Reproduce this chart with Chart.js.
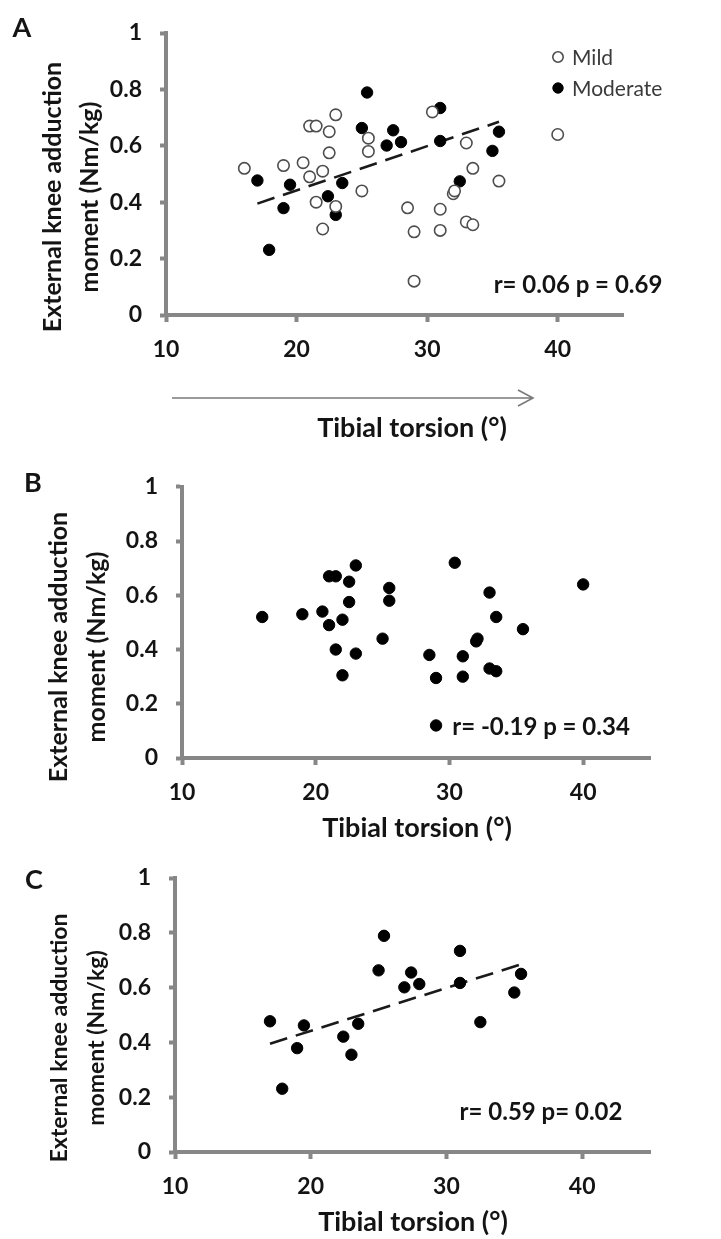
<!DOCTYPE html>
<html lang="en">
<head>
    <meta charset="utf-8" />
    <title>Tibial torsion vs knee adduction moment</title>
    <script src="https://cdnjs.cloudflare.com/ajax/libs/Chart.js/4.4.0/chart.umd.js"></script>
    <style>
        body { margin: 0; background: #fff; }
        canvas { position: absolute; left: 0; }
    </style>
</head>
<body>
    <canvas id="chartA" width="721" height="455" style="top:0px"></canvas>
    <canvas id="chartB" width="721" height="390" style="top:455px"></canvas>
    <canvas id="chartC" width="721" height="394" style="top:845px"></canvas>
    <script>
        // mild group (open circles in A, panel B)
        const mildX = [16.0, 19.0, 20.5, 21.0, 21.5, 23.0, 22.5, 22.5, 21.0, 22.0, 21.5, 23.0, 22.0, 25.5, 25.5,
                       25.0, 28.5, 29.0, 29.0, 30.4, 31.0, 31.0, 33.0, 33.5, 32.0, 32.1, 33.0, 33.5, 35.5, 40.0];
        const mildY = [0.52, 0.53, 0.54, 0.67, 0.67, 0.71, 0.65, 0.575, 0.49, 0.51, 0.40, 0.385, 0.305, 0.627, 0.58,
                       0.44, 0.38, 0.295, 0.12, 0.72, 0.375, 0.30, 0.61, 0.52, 0.43, 0.44, 0.33, 0.32, 0.475, 0.64];
        // moderate group (filled in A, panel C)
        const modX = [17.0, 17.9, 19.0, 19.5, 22.4, 23.0, 23.5, 25.0, 25.4, 26.9, 27.4, 28.0, 31.0, 31.0, 32.5, 35.0, 35.5];
        const modY = [0.477, 0.231, 0.379, 0.462, 0.421, 0.355, 0.468, 0.663, 0.789, 0.601, 0.655, 0.613, 0.734, 0.617, 0.474, 0.582, 0.65];
        // regression line for the moderate group
        const trendX = [17, 35.5];
        const trendY = [0.395, 0.685];

        const xTicks = [10, 20, 30, 40];
        const yTicks = [0, 0.2, 0.4, 0.6, 0.8, 1];
        const yTickLabels = ['0', '0.2', '0.4', '0.6', '0.8', '1'];

        const axisGrey = '#878787';
        const inkColor = '#141414';
        const fontName = 'Lato, "DejaVu Sans", sans-serif';

        const toPoints = (xs, ys) => xs.map((x, i) => ({ x: x, y: ys[i] }));

        const decoPlugin = {
            id: 'deco',
            afterDraw(chart, args, o) {
                const ctx = chart.ctx;
                ctx.save();
                ctx.fillStyle = inkColor;
                ctx.textAlign = 'center';
                ctx.textBaseline = 'middle';

                ctx.font = 'bold 27px ' + fontName;
                ctx.fillText(o.letter, o.letterX, o.letterY);

                // y title, two rotated lines
                ctx.font = 'bold ' + o.yFont + 'px ' + fontName;
                o.yLines.forEach((line, i) => {
                    ctx.save();
                    ctx.translate(o.yLineX[i], o.yCY);
                    ctx.rotate(-Math.PI / 2);
                    ctx.fillText(line, 0, 0);
                    ctx.restore();
                });

                ctx.font = 'bold 27px ' + fontName;
                ctx.fillText('Tibial torsion (°)', o.xTitleX, o.xTitleY);

                ctx.font = 'bold 24px ' + fontName;
                ctx.fillText(o.stat, o.statX, o.statY);

                if (o.arrow) {
                    const a = o.arrow;
                    ctx.strokeStyle = '#7a7a7a';
                    ctx.lineWidth = 1.6;
                    ctx.beginPath();
                    ctx.moveTo(a.x1, a.y);
                    ctx.lineTo(a.x2, a.y);
                    ctx.moveTo(a.x2 - 15, a.y - 8);
                    ctx.lineTo(a.x2, a.y);
                    ctx.lineTo(a.x2 - 15, a.y + 8);
                    ctx.stroke();
                }

                if (o.legend) {
                    ctx.textAlign = 'left';
                    ctx.font = '21px ' + fontName;
                    o.legend.forEach(item => {
                        const ds = chart.data.datasets[item.dataset];
                        ctx.beginPath();
                        ctx.arc(item.x, item.y, 5.2, 0, Math.PI * 2);
                        ctx.fillStyle = ds.pointBackgroundColor;
                        ctx.fill();
                        ctx.lineWidth = ds.pointBorderWidth;
                        ctx.strokeStyle = ds.pointBorderColor;
                        ctx.stroke();
                        ctx.fillStyle = '#3a3a3a';
                        ctx.fillText(ds.label, item.x + 14, item.y + 1);
                    });
                }
                ctx.restore();
            }
        };

        function makePanel(id, geom, datasets, deco) {
            const canvas = document.getElementById(id);
            return new Chart(canvas.getContext('2d'), {
                type: 'scatter',
                data: { datasets: datasets },
                plugins: [decoPlugin],
                options: {
                    responsive: false,
                    animation: false,
                    layout: { padding: { left: 0, top: geom.top, right: 721 - geom.right, bottom: 0 } },
                    plugins: {
                        legend: { display: false },
                        tooltip: { enabled: false },
                        deco: deco
                    },
                    scales: {
                        x: {
                            type: 'linear',
                            min: 10,
                            max: 45,
                            afterFit: s => { s.height = canvas.height - geom.bottom; },
                            afterBuildTicks: s => { s.ticks = xTicks.map(v => ({ value: v })); },
                            border: { display: true, color: axisGrey, width: 4 },
                            grid: { drawOnChartArea: false, tickLength: 7, tickWidth: 4, tickColor: axisGrey, color: axisGrey },
                            ticks: { color: inkColor, padding: 14, font: { family: fontName, size: 23, weight: 'bold' } }
                        },
                        y: {
                            type: 'linear',
                            min: 0,
                            max: 1,
                            afterFit: s => { s.width = geom.left; },
                            afterBuildTicks: s => { s.ticks = yTicks.map(v => ({ value: v })); },
                            border: { display: true, color: axisGrey, width: 4 },
                            grid: { drawOnChartArea: false, tickLength: 6, tickWidth: 4, tickColor: axisGrey, color: axisGrey },
                            ticks: {
                                color: inkColor, padding: 18, font: { family: fontName, size: 23, weight: 'bold' },
                                callback: (v) => yTickLabels[yTicks.indexOf(v)]
                            }
                        }
                    }
                }
            });
        }

        const trendSet = () => ({
            type: 'line',
            label: 'trend',
            data: toPoints(trendX, trendY),
            borderColor: '#1a1a1a',
            borderWidth: 2.6,
            borderDash: [18, 9],
            pointRadius: 0,
            fill: false
        });

        const filledStyle = { pointRadius: 5.7, pointBackgroundColor: '#000', pointBorderColor: '#000', pointBorderWidth: 1 };

        makePanel('chartA', { left: 166, top: 33, right: 623, bottom: 315 }, [
            Object.assign({ label: 'Mild', data: toPoints(mildX, mildY) },
                { pointRadius: 5.7, pointBackgroundColor: '#fff', pointBorderColor: '#4d4d4d', pointBorderWidth: 1.6 }),
            Object.assign({ label: 'Moderate', data: toPoints(modX, modY) }, filledStyle),
            trendSet()
        ], {
            letter: 'A', letterX: 22, letterY: 28,
            yLines: ['External knee adduction', 'moment (Nm/kg)'], yLineX: [53, 90], yCY: 197, yFont: 25,
            xTitleX: 412, xTitleY: 428,
            stat: 'r= 0.06 p = 0.69', statX: 578, statY: 285,
            arrow: { x1: 172, x2: 533, y: 398 },
            legend: [{ dataset: 0, x: 558, y: 57 }, { dataset: 1, x: 558, y: 88 }]
        });

        makePanel('chartB', { left: 182, top: 23, right: 650, bottom: 303 }, [
            Object.assign({ label: 'Mild', data: toPoints(mildX, mildY) }, filledStyle)
        ], {
            letter: 'B', letterX: 33, letterY: 28,
            yLines: ['External knee adduction', 'moment (Nm/kg)'], yLineX: [59, 97], yCY: 192, yFont: 25,
            xTitleX: 417, xTitleY: 373,
            stat: 'r= -0.19 p = 0.34', statX: 541, statY: 272
        });

        makePanel('chartC', { left: 175, top: 33, right: 650, bottom: 307 }, [
            Object.assign({ label: 'Moderate', data: toPoints(modX, modY) }, filledStyle),
            trendSet()
        ], {
            letter: 'C', letterX: 34, letterY: 35,
            yLines: ['External knee adduction', 'moment (Nm/kg)'], yLineX: [60, 97], yCY: 193, yFont: 23,
            xTitleX: 413, xTitleY: 377,
            stat: 'r= 0.59 p= 0.02', statX: 541, statY: 267
        });
    </script>
</body>
</html>
